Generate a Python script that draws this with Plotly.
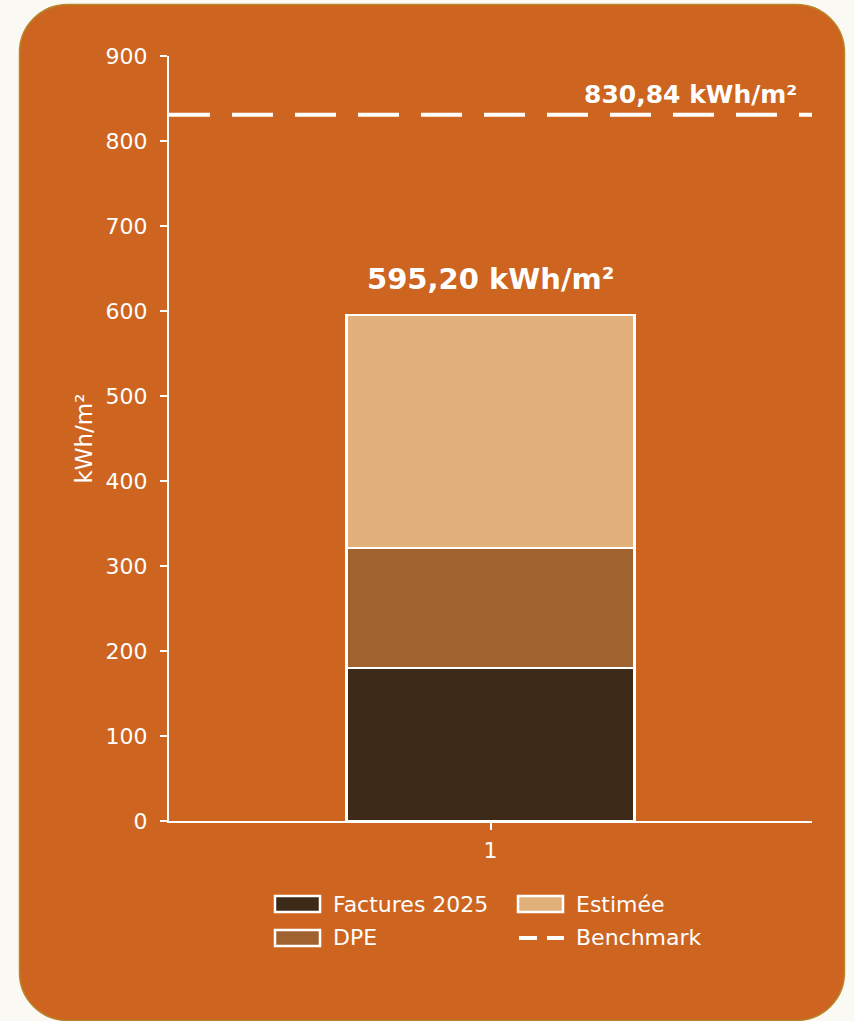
import plotly.graph_objects as go

# ---- data ----
categories = [1]
factures_2025 = [180.0]
dpe = [141.2]
estimee = [274.0]
total_label = "595,20 kWh/m²"
benchmark_value = 830.84
benchmark_label = "830,84 kWh/m²"
y_ticks = [0, 100, 200, 300, 400, 500, 600, 700, 800, 900]

# ---- style ----
W, H = 854, 1021
L, R, T, B = 169, 812, 56, 821
PAGE = "#FBF9F3"
CARD = "#CD6420"
CARD_BORDER = "#B8862B"
C_FACT = "#3D2A18"
C_DPE = "#A0622F"
C_EST = "#E2B07A"
WHITE = "#FFFFFF"
FONT = "DejaVu Sans"
FS = 22


def px(x):
    return (x - L) / (R - L)


def py(y):
    return (B - y) / (B - T)


fig = go.Figure()
for name, vals, col in [("Factures 2025", factures_2025, C_FACT),
                        ("DPE", dpe, C_DPE),
                        ("Estimée", estimee, C_EST)]:
    fig.add_trace(go.Bar(x=categories, y=vals, name=name, width=0.448,
                         marker=dict(color=col, line=dict(color=WHITE, width=2.5)),
                         showlegend=False, hoverinfo="skip"))

shapes = []
# rounded card background
x0, x1, y0, y1, r = 19.5, 844.5, 4.5, 1020.5, 48
k = 0.5523 * r
pts = [
    f"M {px(x0 + r)},{py(y0)}",
    f"L {px(x1 - r)},{py(y0)}",
    f"C {px(x1 - r + k)},{py(y0)} {px(x1)},{py(y0 + r - k)} {px(x1)},{py(y0 + r)}",
    f"L {px(x1)},{py(y1 - r)}",
    f"C {px(x1)},{py(y1 - r + k)} {px(x1 - r + k)},{py(y1)} {px(x1 - r)},{py(y1)}",
    f"L {px(x0 + r)},{py(y1)}",
    f"C {px(x0 + r - k)},{py(y1)} {px(x0)},{py(y1 - r + k)} {px(x0)},{py(y1 - r)}",
    f"L {px(x0)},{py(y0 + r)}",
    f"C {px(x0)},{py(y0 + r - k)} {px(x0 + r - k)},{py(y0)} {px(x0 + r)},{py(y0)}",
    "Z",
]
shapes.append(dict(type="path", xref="paper", yref="paper", path=" ".join(pts),
                   fillcolor=CARD, line=dict(color=CARD_BORDER, width=1.5), layer="below"))

# benchmark line
shapes.append(dict(type="line", xref="paper", yref="y", x0=0, x1=1,
                   y0=benchmark_value, y1=benchmark_value,
                   line=dict(color=WHITE, width=4, dash="41px,22px"), layer="above"))

# manual legend symbols
legend_items = [
    ("Factures 2025", C_FACT, 275, 904, "rect"),
    ("DPE", C_DPE, 275, 938, "rect"),
    ("Estimée", C_EST, 518, 904, "rect"),
    ("Benchmark", WHITE, 518, 938, "dash"),
]
annotations = []
for label, col, lx, ly, kind in legend_items:
    if kind == "rect":
        shapes.append(dict(type="rect", xref="paper", yref="paper",
                           x0=px(lx), x1=px(lx + 45), y0=py(ly - 8), y1=py(ly + 8),
                           fillcolor=col, line=dict(color=WHITE, width=2.5)))
    else:
        shapes.append(dict(type="line", xref="paper", yref="paper",
                           x0=px(lx + 1), x1=px(lx + 46), y0=py(ly), y1=py(ly),
                           line=dict(color=WHITE, width=4, dash="18px,10px")))
    annotations.append(dict(xref="paper", yref="paper", x=px(lx + 56), y=py(ly),
                            text=label, showarrow=False, xanchor="left", yanchor="middle",
                            font=dict(family=FONT, size=FS, color=WHITE)))

# value labels
annotations.append(dict(x=categories[0], y=factures_2025[0] + dpe[0] + estimee[0],
                        xref="x", yref="y", text=f"<b>{total_label}</b>", showarrow=False,
                        xanchor="center", yanchor="bottom", yshift=17,
                        font=dict(family=FONT, size=29, color=WHITE)))
annotations.append(dict(x=px(799), y=benchmark_value, xref="paper", yref="y",
                        text=f"<b>{benchmark_label}</b>", showarrow=False,
                        xanchor="right", yanchor="bottom", yshift=4,
                        font=dict(family=FONT, size=25, color=WHITE)))

fig.update_layout(
    width=W, height=H,
    margin=dict(l=L, r=W - R, t=T, b=H - B, pad=0),
    paper_bgcolor=PAGE, plot_bgcolor="rgba(0,0,0,0)",
    font=dict(family=FONT, color=WHITE, size=FS),
    shapes=shapes, annotations=annotations, barmode="stack", showlegend=False,
    xaxis=dict(range=[0.5, 1.5], tickvals=categories, ticktext=[str(c) for c in categories],
               showgrid=False, zeroline=False, showline=True, linecolor=WHITE, linewidth=2,
               ticks="outside", ticklen=7, tickwidth=1.5, tickcolor=WHITE, ticklabelstandoff=2,
               tickfont=dict(family=FONT, size=FS, color=WHITE)),
    yaxis=dict(range=[0, 900], tickvals=y_ticks, showgrid=False, zeroline=False,
               showline=True, linecolor=WHITE, linewidth=2,
               ticks="outside", ticklen=7, tickwidth=1.5, tickcolor=WHITE, ticklabelstandoff=8,
               tickfont=dict(family=FONT, size=FS, color=WHITE),
               title=dict(text="kWh/m²", font=dict(family=FONT, size=23, color=WHITE), standoff=7)),
)

fig.write_html("out.html", config={"displayModeBar": False},
               post_script="document.body.style.margin='0';document.body.style.background='#FBF9F3';")
